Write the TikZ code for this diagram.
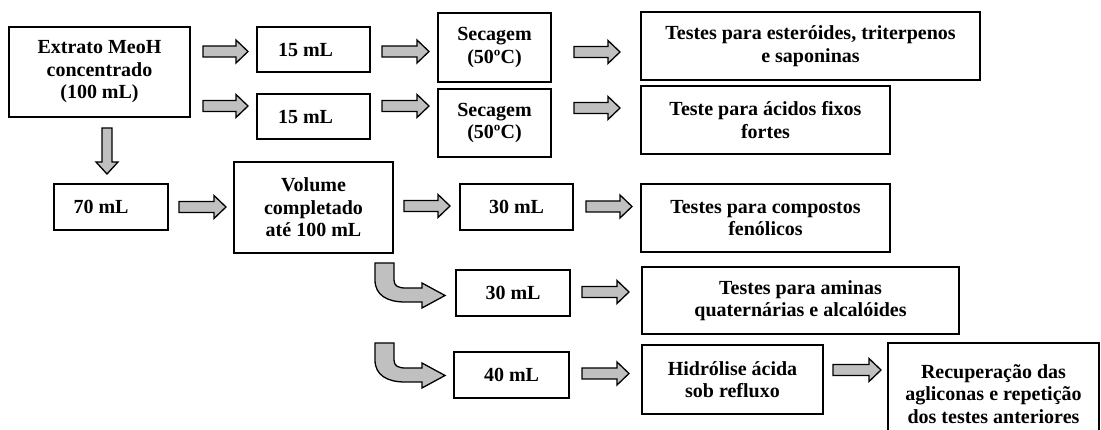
\documentclass[tikz,border=0pt]{standalone}
\usepackage{fontspec}
\setmainfont{Liberation Serif}
\definecolor{arrowgray}{RGB}{192,192,192}

% straight block arrow pointing right: from x=#1 to tip x=#2 at height #3
\newcommand\rblock[3]{%
  \filldraw[arrowbody] (#1,#3-5.5) -- (#2-12,#3-5.5) -- (#2-12,#3-11.5) -- (#2,#3)
    -- (#2-12,#3+11.5) -- (#2-12,#3+5.5) -- (#1,#3+5.5) -- cycle;}
% bent block arrow: down, then turning right; top edge at y=#1
\newcommand\bentblock[1]{%
  \filldraw[arrowbody] (375,#1) -- (394,#1) -- (394,#1+17)
    .. controls (394,#1+23) and (398,#1+25) .. (406,#1+25) -- (422,#1+25)
    -- (422,#1+20) -- (445,#1+32.5) -- (422,#1+45) -- (422,#1+39) -- (405,#1+39)
    .. controls (387,#1+39) and (375,#1+32) .. (375,#1+17) -- cycle;}

\begin{document}
\begin{tikzpicture}[x=1pt,y=-1pt,
  box/.style={draw, line width=1.6pt, inner sep=0pt, align=center,
    font=\fontsize{20}{22.5}\selectfont\bfseries},
  arrowbody/.style={fill=arrowgray, draw=black, line width=1.3pt, line join=miter}]
\useasboundingbox (0,0) rectangle (1101,430);
\clip (0,0) rectangle (1101,430);

% boxes
\node[box, minimum width=181pt, minimum height=90pt] (ext) at (99.5,72) {Extrato MeoH\\concentrado\\(100 mL)};
\node[box, minimum width=113pt, minimum height=45pt] (m15a) at (313.5,49.5) {15 mL\hspace*{16pt}};
\node[box, minimum width=113pt, minimum height=45pt] (m15b) at (313.5,116.5) {15 mL\hspace*{16pt}};
\node[box, minimum width=113pt, minimum height=69pt] (seca) at (494.5,47.5) {Secagem\\(50ºC)};
\node[box, minimum width=113pt, minimum height=68pt] (secb) at (494.5,123) {Secagem\\(50ºC)};
\node[box, minimum width=339pt, minimum height=68pt] (tsta) at (810.5,46) {Testes para esteróides, triterpenos\\e saponinas};
\node[box, minimum width=249pt, minimum height=68pt] (tstb) at (765.5,120) {Teste para ácidos fixos\\fortes};
\node[box, minimum width=114pt, minimum height=46pt] (m70) at (111,207) {70 mL\hspace*{20pt}};
\node[box, minimum width=159pt, minimum height=91pt] (vol) at (313.5,207.5) {Volume\\completado\\até 100 mL};
\node[box, minimum width=113pt, minimum height=46pt] (m30a) at (516.5,207) {30 mL};
\node[box, minimum width=249pt, minimum height=68pt] (tstc) at (765.5,218) {Testes para compostos\\fenólicos};
\node[box, minimum width=114pt, minimum height=46pt] (m30b) at (513,293) {30 mL};
\node[box, minimum width=317pt, minimum height=67pt] (tstd) at (800.5,300.5) {Testes para aminas\\quaternárias e alcalóides};
\node[box, minimum width=115pt, minimum height=46pt] (m40) at (511.5,375) {40 mL};
\node[box, minimum width=181pt, minimum height=69pt] (hid) at (732.5,379.5) {Hidrólise ácida\\sob refluxo};
\node[box, minimum width=211pt, minimum height=102pt] (rec) at (993.5,394) {Recuperação das\\agliconas e repetição\\dos testes anteriores};

% straight block arrows
\rblock{203}{248}{51.5}
\rblock{203}{248}{106}
\rblock{382}{429}{51.5}
\rblock{382}{429}{106}
\rblock{574}{620}{52}
\rblock{574}{620}{108}
\rblock{179}{226}{207}
\rblock{404}{450}{206}
\rblock{586}{632}{206.5}
\rblock{582}{629}{292}
\rblock{582}{629}{373.5}
\rblock{833}{881}{370}

% downward block arrow below the extract
\filldraw[arrowbody] (102,128) -- (112,128) -- (112,162) -- (118,162) -- (107,174)
  -- (96,162) -- (102,162) -- cycle;

% bent block arrows leaving the volume box
\bentblock{263}
\bentblock{343}
\end{tikzpicture}
\end{document}
